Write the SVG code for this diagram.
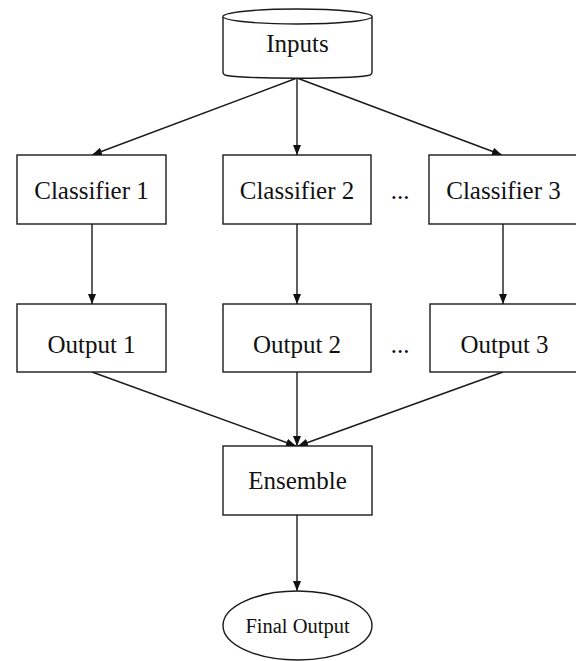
<svg xmlns="http://www.w3.org/2000/svg" width="576" height="661" viewBox="0 0 576 661">
<style>
.n{fill:#fff;stroke:#1a1a1a;stroke-width:1.4}
.t{font-family:"Liberation Serif","Times New Roman",serif;font-size:25px;fill:#111;text-anchor:middle}
.s{font-size:20.5px}
.c line{stroke:#1a1a1a;stroke-width:1.4;marker-end:url(#ah)}
</style>
<defs>
<marker id="ah" viewBox="0 0 10 8" refX="10" refY="4" markerWidth="10" markerHeight="8" markerUnits="userSpaceOnUse" orient="auto">
<path d="M0,0 L10,4 L0,8 z" fill="#111"/>
</marker>
</defs>
<rect width="576" height="661" fill="#fff"/>
<g class="c">
<line x1="297" y1="78" x2="92" y2="155"/>
<line x1="297" y1="78" x2="297" y2="155"/>
<line x1="297" y1="78" x2="502" y2="155"/>
<line x1="92" y1="224" x2="92" y2="304"/>
<line x1="297" y1="224" x2="297" y2="304"/>
<line x1="503" y1="224" x2="503" y2="304"/>
<line x1="92" y1="372" x2="296" y2="446"/>
<line x1="297" y1="372" x2="297" y2="446"/>
<line x1="503" y1="372" x2="298" y2="446"/>
<line x1="297" y1="515" x2="297" y2="591"/>
</g>
<g id="inputs">
<path class="n" d="M223,16.5 A74.5,7.5 0 0,1 372,16.5 V72 Q372,75 368,75.5 A74.5,4 0 0,1 227,75.5 Q223,75 223,72 Z"/>
<path class="n" fill="none" d="M223,16.5 A74.5,7.5 0 0,0 372,16.5"/>
<text class="t" x="297.5" y="52">Inputs</text>
</g>
<g id="classifier1">
<rect class="n" x="17" y="155" width="149" height="69"/>
<text class="t" x="91.5" y="199">Classifier 1</text>
</g>
<g id="classifier2">
<rect class="n" x="223" y="155" width="148" height="69"/>
<text class="t" x="297" y="199">Classifier 2</text>
</g>
<text class="t" x="400" y="199">...</text>
<g id="classifier3">
<rect class="n" x="429" y="155" width="149" height="69"/>
<text class="t" x="503.5" y="199">Classifier 3</text>
</g>
<g id="output1">
<rect class="n" x="17" y="304" width="149" height="68"/>
<text class="t" x="91.5" y="353">Output 1</text>
</g>
<g id="output2">
<rect class="n" x="223" y="304" width="148" height="68"/>
<text class="t" x="297" y="353">Output 2</text>
</g>
<text class="t" x="400" y="353">...</text>
<g id="output3">
<rect class="n" x="430" y="304" width="149" height="68"/>
<text class="t" x="504.5" y="353">Output 3</text>
</g>
<g id="ensemble">
<rect class="n" x="223" y="446" width="149" height="69"/>
<text class="t" x="297.5" y="489">Ensemble</text>
</g>
<g id="final">
<ellipse class="n" cx="297.5" cy="625.5" rx="74.5" ry="34.5"/>
<text class="t s" x="297.5" y="633">Final Output</text>
</g>
</svg>
